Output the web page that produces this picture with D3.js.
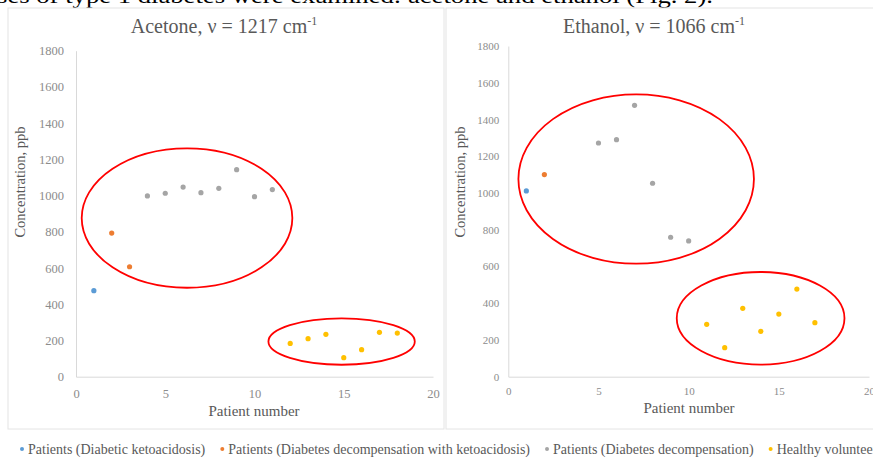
<!DOCTYPE html>
<html>
<head>
<meta charset="utf-8">
<script src="https://cdn.jsdelivr.net/npm/d3@7"></script>
<style>
  body { margin: 0; background: #fff; }
  svg { display: block; }
  svg text { font-family: "Liberation Serif", "DejaVu Serif", serif; }
</style>
</head>
<body>
<svg id="chart" width="873" height="457"></svg>
<script>
// series names + colours
var seriesNames = ['Patients (Diabetic ketoacidosis)', 'Patients (Diabetes decompensation with ketoacidosis)',
  'Patients (Diabetes decompensation)', 'Healthy volunteers'];
var seriesColors = ['#5b9bd5', '#ed7d31', '#a5a5a5', '#ffc000'];

// acetone (left chart), one list per series
var acetoneKetoX = [1];
var acetoneKetoY = [475];
var acetoneDecKetoX = [2, 3];
var acetoneDecKetoY = [793, 607];
var acetoneDecX = [4, 5, 6, 7, 8, 9, 10, 11];
var acetoneDecY = [998, 1013, 1047, 1016, 1040, 1143, 994, 1033];
var acetoneHealthyX = [12, 13, 14, 15, 16, 17, 18];
var acetoneHealthyY = [184, 210, 234, 105, 149, 245, 241];

// ethanol (right chart)
var ethanolKetoX = [1];
var ethanolKetoY = [1011];
var ethanolDecKetoX = [2];
var ethanolDecKetoY = [1100];
var ethanolDecX = [5, 6, 7, 8, 9, 10];
var ethanolDecY = [1272, 1290, 1477, 1053, 759, 739];
var ethanolHealthyX = [11, 12, 13, 14, 15, 16, 17];
var ethanolHealthyY = [285, 158, 372, 247, 341, 477, 294];

// red ellipses drawn over the plots: [cx, cy, rx, ry] in data units
var acetoneEllipses = [[6.22, 876, 5.9, 385], [14.88, 194, 4.1, 128]];
var ethanolEllipses = [[7.09, 1076, 6.53, 461], [13.99, 318, 4.65, 252]];

var xTicks = [0, 5, 10, 15, 20];
var yTicks = [0, 200, 400, 600, 800, 1000, 1200, 1400, 1600, 1800];

var svg = d3.select('#chart');

// bit of the paper text above the figure, cut off at the top
svg.append('text')
  .attr('x', -3).attr('y', 3)
  .attr('textLength', 716).attr('lengthAdjust', 'spacingAndGlyphs')
  .style('font-size', '22px').style('fill', '#000')
  .text('ses of type 1 diabetes were examined: acetone and ethanol (Fig. 2).');

function drawChart(opt) {
  // frame
  svg.append('rect')
    .attr('x', opt.frame[0]).attr('y', 8)
    .attr('width', opt.frame[1] - opt.frame[0]).attr('height', 421)
    .attr('fill', 'none').attr('stroke', '#e4e4e4').attr('stroke-width', 1);

  const x = d3.scaleLinear().domain([0, 20]).range(opt.xr);
  const y = d3.scaleLinear().domain([0, 1800]).range(opt.yr);

  const title = svg.append('text')
    .attr('x', opt.titleX).attr('y', 33)
    .attr('text-anchor', 'middle')
    .style('font-size', '20px').style('fill', '#595959');
  title.append('tspan').text(opt.title);
  title.append('tspan').attr('dy', -8).style('font-size', '12px').text('-1');

  // axes
  const gy = svg.append('g')
    .attr('transform', `translate(${opt.xr[0]},0)`)
    .call(d3.axisLeft(y).tickValues(yTicks).tickFormat(d3.format('d')).tickSize(0).tickPadding(opt.yPad));
  gy.select('.domain').attr('stroke', '#d9d9d9');
  gy.selectAll('text').style('font-family', '"Liberation Serif", serif')
    .style('font-size', opt.tickSize).style('fill', '#8c8c8c');

  const gx = svg.append('g')
    .attr('transform', `translate(0,${opt.yr[0]})`)
    .call(d3.axisBottom(x).tickValues(xTicks).tickFormat(d3.format('d')).tickSize(0).tickPadding(opt.xPad));
  gx.select('.domain').attr('stroke', '#d9d9d9');
  gx.selectAll('text').style('font-family', '"Liberation Serif", serif')
    .style('font-size', opt.tickSize).style('fill', '#8c8c8c');

  // axis titles
  svg.append('text')
    .attr('transform', `translate(${opt.yTitleX},182) rotate(-90)`)
    .attr('text-anchor', 'middle').attr('dy', '0.35em')
    .style('font-size', '14.5px').style('fill', '#595959')
    .text('Concentration, ppb');
  svg.append('text')
    .attr('x', opt.xTitleX).attr('y', opt.xTitleY)
    .attr('text-anchor', 'middle')
    .style('font-size', '15px').style('fill', '#595959')
    .text('Patient number');

  // points
  opt.series.forEach(function(s, i) {
    const pts = s[0].map((v, j) => ({x: v, y: s[1][j]}));
    svg.append('g').selectAll('circle')
      .data(pts).join('circle')
      .attr('cx', d => x(d.x)).attr('cy', d => y(d.y))
      .attr('r', 2.6)
      .attr('fill', seriesColors[i]);
  });

  // red ellipses
  svg.append('g').selectAll('ellipse')
    .data(opt.ellipses).join('ellipse')
    .attr('cx', d => x(d[0])).attr('cy', d => y(d[1]))
    .attr('rx', d => x(d[2]) - x(0)).attr('ry', d => y(0) - y(d[3]))
    .attr('fill', 'none').attr('stroke', '#ff0000').attr('stroke-width', 1.8);
}

drawChart({
  frame: [8, 444], xr: [76, 433], yr: [376.7, 50.7],
  title: 'Acetone, \u03BD = 1217 cm', titleX: 224,
  yPad: 12, xPad: 12, tickSize: '12.5px',
  yTitleX: 20, xTitleX: 254, xTitleY: 416,
  series: [[acetoneKetoX, acetoneKetoY], [acetoneDecKetoX, acetoneDecKetoY],
           [acetoneDecX, acetoneDecY], [acetoneHealthyX, acetoneHealthyY]],
  ellipses: acetoneEllipses
});

drawChart({
  frame: [446, 880], xr: [508.3, 869], yr: [376.7, 46],
  title: 'Ethanol, \u03BD = 1066 cm', titleX: 654,
  yPad: 9, xPad: 11, tickSize: '11px',
  yTitleX: 460, xTitleX: 689, xTitleY: 413,
  series: [[ethanolKetoX, ethanolKetoY], [ethanolDecKetoX, ethanolDecKetoY],
           [ethanolDecX, ethanolDecY], [ethanolHealthyX, ethanolHealthyY]],
  ellipses: ethanolEllipses
});

// legend across the bottom, entries placed one after another
let lx = 22;
seriesNames.forEach(function(name, i) {
  const g = svg.append('g').attr('transform', `translate(${lx},449)`);
  g.append('circle').attr('r', 2).attr('fill', seriesColors[i]);
  const t = g.append('text')
    .attr('x', 6).attr('dy', '0.35em')
    .style('font-size', '14px').style('fill', '#595959')
    .text(name);
  lx += 6 + t.node().getComputedTextLength() + 17;
});
</script>
</body>
</html>
